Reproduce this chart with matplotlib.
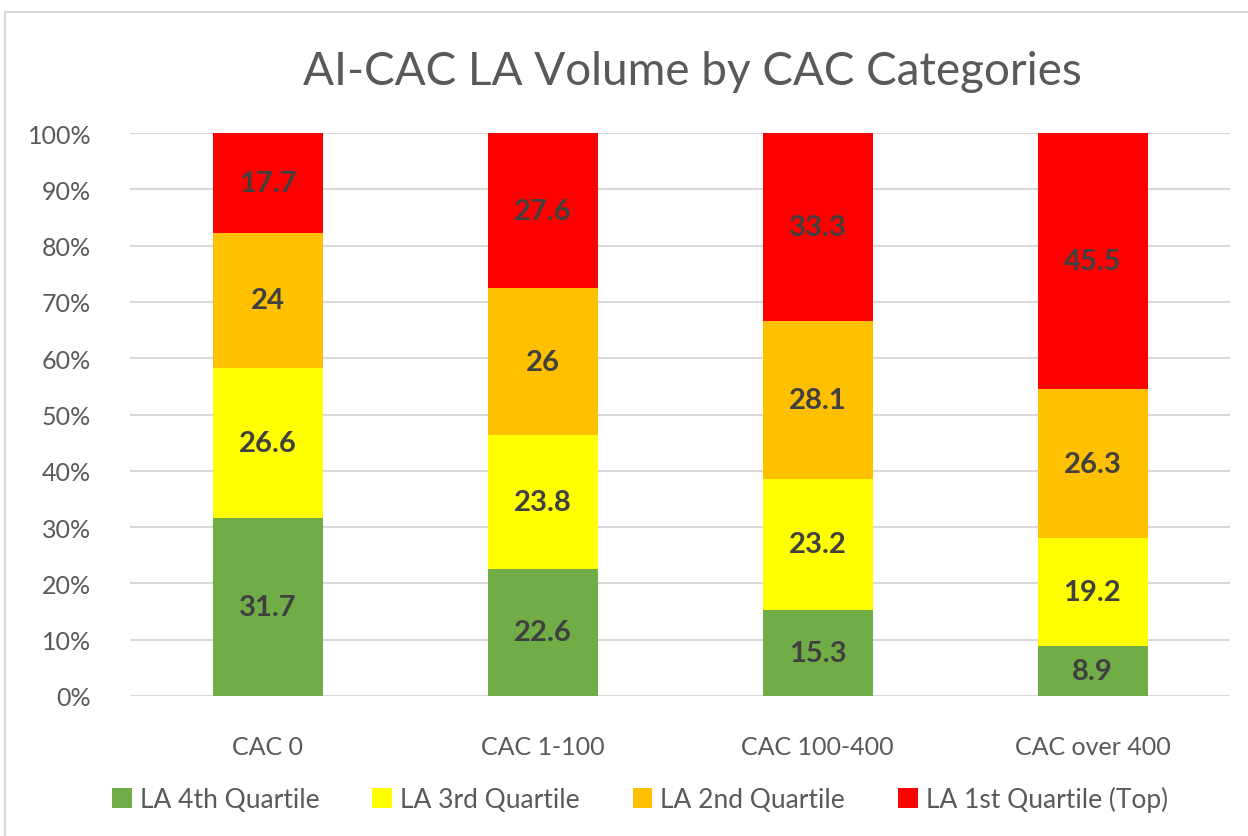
import matplotlib.pyplot as plt
from matplotlib.patches import Rectangle
import numpy as np

categories = ['CAC 0', 'CAC 1-100', 'CAC 100-400', 'CAC over 400']
series_names = ['LA 4th Quartile', 'LA 3rd Quartile', 'LA 2nd Quartile', 'LA 1st Quartile (Top)']
q4 = [31.7, 22.6, 15.3, 8.9]
q3 = [26.6, 23.8, 23.2, 19.2]
q2 = [24, 26, 28.1, 26.3]
q1 = [17.7, 27.6, 33.3, 45.5]
colors = ['#70AD47', '#FFFF00', '#FFC000', '#FF0000']

plt.rcParams['font.family'] = ['Lato', 'DejaVu Sans']

data = np.array([q4, q3, q2, q1], dtype=float)
totals = data.sum(axis=0)
pct = data / totals * 100

fig = plt.figure(figsize=(12.48, 8.37), dpi=100)
ax = fig.add_axes([130 / 1248, 1 - 697 / 837, 1100 / 1248, (697 - 134) / 837])

# chart frame
fig.patches.append(Rectangle((5 / 1248, -0.01), 1.0, 1 - 13 / 837 + 0.01,
                             transform=fig.transFigure, fill=False,
                             edgecolor='#D9D9D9', linewidth=1.5))

x = np.arange(len(categories))
bottom = np.zeros(len(categories))
for i in range(4):
    ax.bar(x, pct[i], 0.4, bottom=bottom, color=colors[i], label=series_names[i], zorder=3)
    for j in range(len(categories)):
        txt = f'{data[i][j]:g}'
        ax.text(x[j], bottom[j] + pct[i][j] / 2, txt, ha='center', va='center',
                fontsize=21, fontweight='bold', color='#404040', zorder=4)
    bottom += pct[i]

ax.set_xlim(-0.5, 3.5)
ax.set_ylim(0, 100)
ax.set_yticks(np.arange(0, 101, 10))
ax.set_yticklabels([f'{v}%' for v in range(0, 101, 10)])
ax.yaxis.grid(True, color='#D9D9D9', linewidth=1.5, zorder=0)
ax.set_xticks(x)
ax.set_xticklabels(categories)
ax.tick_params(axis='both', length=0, labelsize=18, colors='#595959')
ax.tick_params(axis='y', pad=28)
ax.tick_params(axis='x', pad=28)
for s in ax.spines.values():
    s.set_visible(False)

fig.text(692 / 1248, 1 - 72 / 837, 'AI-CAC LA Volume by CAC Categories', ha='center', va='center',
         fontsize=33, color='#595959')

fig.legend(loc='center', bbox_to_anchor=(640 / 1248, 1 - 800 / 837), ncol=4, frameon=False,
           fontsize=19, labelcolor='#595959', handlelength=0.75, handleheight=0.75,
           handletextpad=0.3, columnspacing=2.0)

fig.savefig('out.png', dpi=100)
